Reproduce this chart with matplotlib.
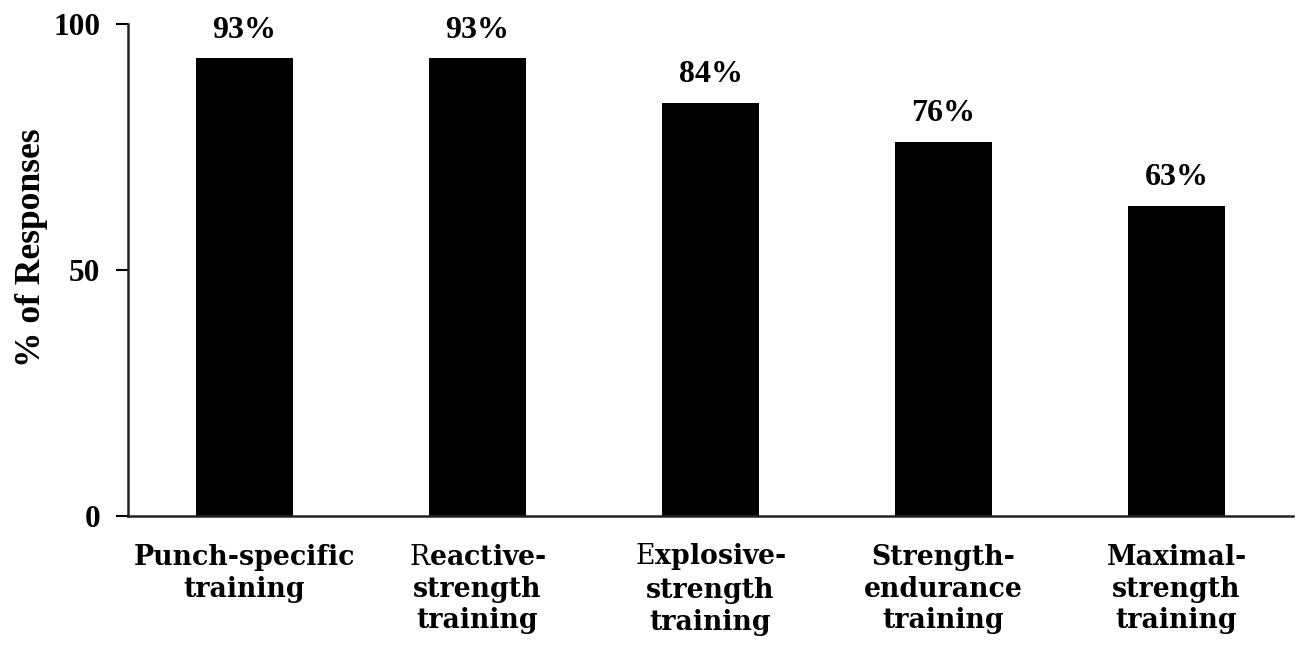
import matplotlib
matplotlib.use("Agg")
from matplotlib import pyplot as plt
import numpy as np

# training types and share of responses (%)
categories = ["Punch-specific\ntraining",
              "$\\mathrm{R}$eactive-\nstrength\ntraining",
              "$\\mathrm{E}$xplosive-\nstrength\ntraining",
              "Strength-\nendurance\ntraining",
              "Maximal-\nstrength\ntraining"]
values = [93, 93, 84, 76, 63]
yticks = [0, 50, 100]

plt.rcParams['font.serif'] = ['Liberation Serif', 'DejaVu Serif']
plt.rcParams['mathtext.fontset'] = 'custom'
plt.rcParams['mathtext.rm'] = 'DejaVu Serif'

fig = plt.figure(figsize=(13.01, 6.53), dpi=100)
ax = fig.add_axes([128/1301, 137/653, (1293-128)/1301, (516-24)/653])

x = np.arange(len(values))
bars = ax.bar(x, values, width=0.42, color='black')

ax.set_xlim(-0.5, len(values) - 0.5)
ax.set_ylim(0, 100)
ax.set_yticks(yticks)
ax.set_yticklabels([str(t) for t in yticks], fontsize=22.5, fontweight='bold',
                   family='serif')
ax.set_xticks(x)
ax.set_xticklabels(categories, fontsize=19.3, fontweight='bold',
                   family='DejaVu Serif', linespacing=1.23)
ax.tick_params(axis='x', length=0, pad=20)
ax.tick_params(axis='y', length=9, width=1.5, direction='out', pad=11)

# mathtext line sits a bit low, nudge it back up
ax.get_xticklabels()[2].set_y(0.005)

for side in ['top', 'right']:
    ax.spines[side].set_visible(False)
for side in ['left', 'bottom']:
    ax.spines[side].set_linewidth(1.8)
    ax.spines[side].set_color('#222222')

ax.set_ylabel("% of Responses", fontsize=25.5, fontweight='bold', family='serif')
ax.yaxis.set_label_coords(-0.069, 0.546)

for b, v in zip(bars, values):
    ax.annotate(f"{v}%", (b.get_x() + b.get_width()/2, v),
                xytext=(0, 10), textcoords='offset points',
                ha='center', va='bottom', fontsize=23, fontweight='bold',
                family='serif')

fig.savefig("out.png", dpi=100)
